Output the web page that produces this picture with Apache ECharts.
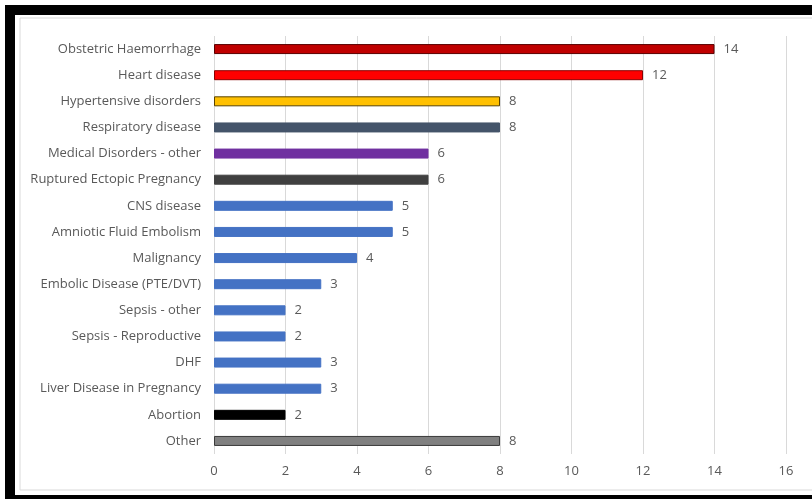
<!DOCTYPE html>
<html>
<head>
<meta charset="utf-8">
<script src="https://cdn.jsdelivr.net/npm/echarts@6/dist/echarts.min.js"></script>
<style>
html, body { margin: 0; padding: 0; background: #fff; }
#chart { width: 812px; height: 499px; }
</style>
</head>
<body>
<div id="chart"></div>
<script>
// 数据
var causes = ['Obstetric Haemorrhage', 'Heart disease', 'Hypertensive disorders', 'Respiratory disease',
	'Medical Disorders - other', 'Ruptured Ectopic Pregnancy', 'CNS disease', 'Amniotic Fluid Embolism',
	'Malignancy', 'Embolic Disease (PTE/DVT)', 'Sepsis - other', 'Sepsis - Reproductive', 'DHF',
	'Liver Disease in Pregnancy', 'Abortion', 'Other'];
var deaths = [14, 12, 8, 8, 6, 6, 5, 5, 4, 3, 2, 2, 3, 3, 2, 8];
var barColors = ['#c00000', '#ff0000', '#ffc000', '#44546a', '#7030a0', '#404040', '#4472c4', '#4472c4',
	'#4472c4', '#4472c4', '#4472c4', '#4472c4', '#4472c4', '#4472c4', '#000000', '#808080'];
var barBorders = ['#5a0000', '#8a0000', '#5a4300', '#44546a', '#7030a0', '#404040', '#4472c4', '#4472c4',
	'#4472c4', '#4472c4', '#4472c4', '#4472c4', '#4472c4', '#4472c4', '#000000', '#3a3a3a'];

var myChart = echarts.init(document.getElementById('chart'));

var barData = [];
for (var i = 0; i < deaths.length; i++) {
	barData.push({
		value: deaths[i],
		itemStyle: { color: barColors[i], borderColor: barBorders[i], borderWidth: 1 }
	});
}

var option = {
	animation: false,
	textStyle: { fontFamily: 'Open Sans' },
	graphic: [
		// 外框
		{ type: 'rect', shape: { x: 20, y: 18, width: 800, height: 472 },
			style: { fill: 'none', stroke: '#d9d9d9', lineWidth: 1 } },
		{ type: 'rect', shape: { x: 5, y: 5, width: 807, height: 10 }, style: { fill: '#000' } },
		{ type: 'rect', shape: { x: 5, y: 5, width: 10, height: 494 }, style: { fill: '#000' } },
		{ type: 'rect', shape: { x: 5, y: 495, width: 807, height: 4 }, style: { fill: '#000' } }
	],
	grid: { left: 214, right: 26, top: 36, height: 418 },
	xAxis: {
		type: 'value',
		min: 0,
		max: 16,
		interval: 2,
		axisLine: { show: false },
		axisTick: { show: false },
		axisLabel: { color: '#595959', fontSize: 13, margin: 11 },
		splitLine: { lineStyle: { color: '#d9d9d9' } }
	},
	yAxis: {
		type: 'category',
		inverse: true,
		data: causes,
		axisLine: { show: false },
		axisTick: { show: false },
		axisLabel: { color: '#595959', fontSize: 13, margin: 13 }
	},
	series: [
		{
			type: 'bar',
			data: barData,
			barWidth: 10,
			label: { show: true, position: 'right', distance: 9, color: '#595959', fontSize: 13 }
		}
	]
};
myChart.setOption(option);
</script>
</body>
</html>
